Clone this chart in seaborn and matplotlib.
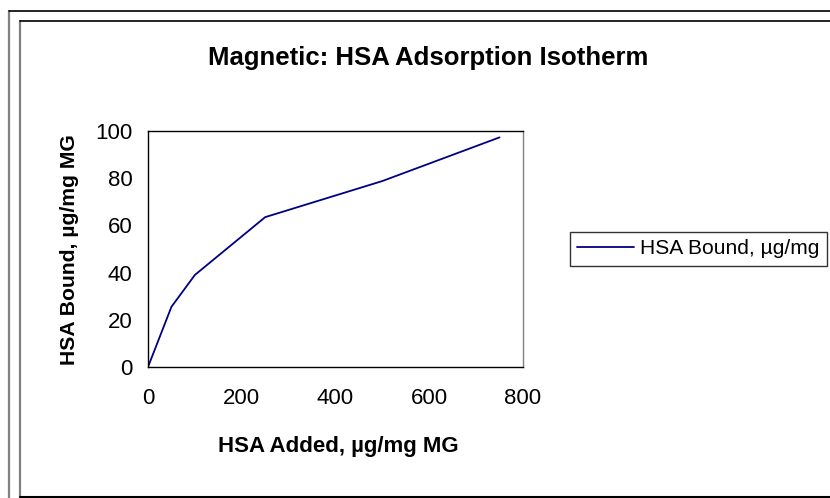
import pandas as pd
import matplotlib.pyplot as plt
from matplotlib.lines import Line2D
import seaborn as sns

# Data
hsa_added = [0, 50, 100, 250, 500, 750]
hsa_bound = [0, 25.5, 39, 63.5, 78.8, 97.3]
x_ticks = [0, 200, 400, 600, 800]
y_ticks = [0, 20, 40, 60, 80, 100]

df = pd.DataFrame({'added': hsa_added, 'bound': hsa_bound})

sns.set_style('white')
plt.rcParams['font.family'] = ['Liberation Sans', 'DejaVu Sans']
plt.rcParams['text.color'] = 'black'

W, H = 830, 498
fig = plt.figure(figsize=(8.3, 4.98), dpi=100)
ax = fig.add_axes([148 / W, 1 - 367 / H, 375 / W, 236 / H])

sns.lineplot(data=df, x='added', y='bound', color='#000080', linewidth=1.3,
             label='HSA Bound, µg/mg', ax=ax)

ax.set_xlim(0, 800)
ax.set_ylim(0, 100)
ax.set_xticks(x_ticks)
ax.set_yticks(y_ticks)
ax.tick_params(axis='x', direction='inout', length=8, width=1, labelsize=16, pad=11,
               colors='black')
ax.tick_params(axis='y', direction='out', length=5, width=1, labelsize=16, pad=6,
               colors='black')
ax.set_xlabel('')
ax.set_ylabel('')
for s in ['left', 'bottom', 'top']:
    ax.spines[s].set_color('black')
    ax.spines[s].set_linewidth(1)
ax.spines['right'].set_color('#808080')
ax.spines['right'].set_linewidth(1)

fig.text(428 / W, 1 - 58 / H, 'Magnetic: HSA Adsorption Isotherm',
         ha='center', va='center', fontsize=18.5, fontweight='bold')
fig.text(338 / W, 1 - 446 / H, 'HSA Added, µg/mg MG',
         ha='center', va='center', fontsize=16, fontweight='bold')
fig.text(69.5 / W, 1 - 250 / H, 'HSA Bound, µg/mg MG', rotation=90,
         ha='center', va='center', fontsize=15.2, fontweight='bold')

leg = ax.legend(loc='center left', bbox_to_anchor=(570 / W, 1 - 249 / H),
                bbox_transform=fig.transFigure, frameon=True, fancybox=False,
                fontsize=15.1, handlelength=2.7, handletextpad=0.28,
                borderpad=0.35, borderaxespad=0)
leg.get_frame().set_edgecolor('black')
leg.get_frame().set_linewidth(1)

# chart frame edges: gray verticals, black horizontals
for x0, y0 in [(9, 11.5), (20, 21.5)]:
    fig.add_artist(Line2D([x0 / W, x0 / W], [0, 1 - y0 / H], transform=fig.transFigure,
                          color='#808080', linewidth=1.6))
    fig.add_artist(Line2D([x0 / W, 1], [1 - y0 / H, 1 - y0 / H], transform=fig.transFigure,
                          color='black', linewidth=1.2))
fig.add_artist(Line2D([20 / W, 1], [1 - 496.5 / H, 1 - 496.5 / H], transform=fig.transFigure,
                      color='black', linewidth=1.5))

fig.savefig('out.png', dpi=100)
